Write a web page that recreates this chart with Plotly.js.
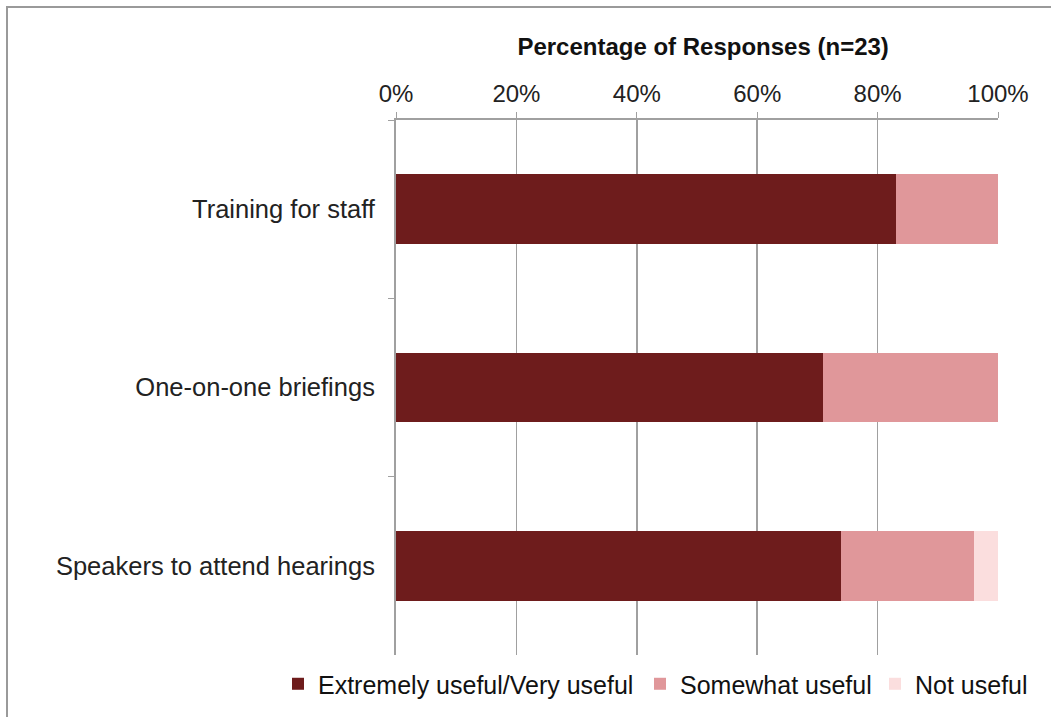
<!DOCTYPE html>
<html>
<head>
<meta charset="utf-8">
<script src="https://cdn.plot.ly/plotly-3.0.1.min.js"></script>
<style>
html,body{margin:0;padding:0;background:#fff;}
#wrap{position:relative;width:1051px;height:717px;overflow:hidden;}
#chart{position:absolute;left:0;top:0;width:1051px;height:717px;}
#frame{position:absolute;left:6px;top:6px;width:1100px;height:800px;border-left:2px solid #9a9a9a;border-top:2px solid #9a9a9a;pointer-events:none;}
</style>
</head>
<body>
<div id="wrap"><div id="chart"></div><div id="frame"></div></div>
<script>
const categories = ["Training for staff", "One-on-one briefings", "Speakers to attend hearings"];
const seriesNames = ["Extremely useful/Very useful", "Somewhat useful", "Not useful"];
const extremelyUseful = [83, 71, 74];
const somewhatUseful = [17, 29, 22];
const notUseful = [0, 0, 4];
const xTickVals = [0, 20, 40, 60, 80, 100];
const xTickText = ["0%", "20%", "40%", "60%", "80%", "100%"];
const colors = ["#6e1c1c", "#e0979a", "#fbdede"];
const legendIds = ["legend", "legend2", "legend3"];

const valueSets = [extremelyUseful, somewhatUseful, notUseful];
const traces = valueSets.map((vals, i) => ({
  type: "bar",
  orientation: "h",
  name: seriesNames[i],
  legend: legendIds[i],
  y: categories,
  x: vals,
  marker: {color: colors[i], line: {width: 0}},
  hoverinfo: "x+y+name"
}));

const font = "'Liberation Sans', Arial, sans-serif";
function leg(leftPx) {
  return {
    orientation: "h",
    xref: "container", yref: "container",
    x: leftPx / 1051, xanchor: "left", y: 0.046, yanchor: "middle",
    font: {family: font, size: 25, color: "#111"},
    itemwidth: 30, bgcolor: "rgba(0,0,0,0)"
  };
}
const layout = {
  width: 1051, height: 717,
  barmode: "stack",
  bargap: 0.61,
  paper_bgcolor: "rgba(0,0,0,0)",
  plot_bgcolor: "#fff",
  margin: {l: 396, r: 53, t: 120, b: 62},
  font: {family: font, size: 25, color: "#1a1a1a"},
  title: {
    text: "<b>Percentage of Responses (n=23)</b>",
    x: 0.669, xanchor: "center", y: 0.935, yanchor: "middle",
    font: {family: font, size: 24, color: "#111"}
  },
  xaxis: {
    side: "top", range: [0, 100],
    tickvals: xTickVals, ticktext: xTickText,
    showgrid: true, gridcolor: "#a0a0a0", gridwidth: 1.5,
    showline: true, linecolor: "#a0a0a0", linewidth: 2,
    ticks: "outside", ticklen: 6, tickcolor: "#a0a0a0",
    zeroline: false, fixedrange: true, automargin: false,
    tickfont: {family: font, size: 24, color: "#222"}
  },
  yaxis: {
    autorange: "reversed", type: "category",
    showline: true, linecolor: "#a0a0a0", linewidth: 2,
    ticks: "outside", tickson: "boundaries", ticklen: 6, tickcolor: "#a0a0a0",
    showgrid: false, zeroline: false, fixedrange: true, automargin: false,
    ticklabelstandoff: 14,
    tickfont: {family: font, size: 25.5, color: "#222"}
  },
  legend: leg(278),
  legend2: leg(640),
  legend3: leg(875),
  showlegend: true
};

Plotly.newPlot("chart", traces, layout, {displayModeBar: false, staticPlot: true});
</script>
</body>
</html>
